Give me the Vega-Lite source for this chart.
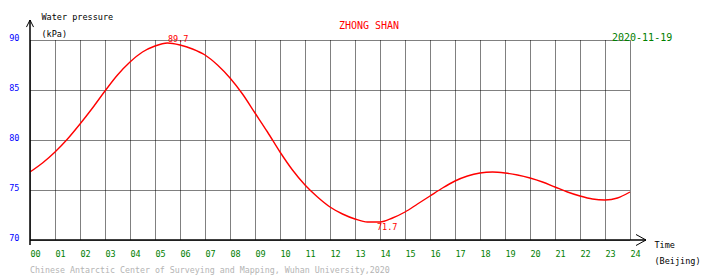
{
  "$schema": "https://vega.github.io/schema/vega-lite/v6.json",
  "width": 600,
  "height": 200,
  "autosize": {"type": "none"},
  "padding": {"left": 30, "top": 40, "right": 80, "bottom": 38},
  "background": "white",
  "config": {"view": {"stroke": null}, "font": "DejaVu Sans Mono"},
  "resolve": {"axis": {"x": "independent", "y": "independent"}},
  "datasets": {
    "pressure": [
      {"h": 0, "v": 76.8}, {"h": 0.5, "v": 77.7}, {"h": 1, "v": 78.8}, {"h": 1.5, "v": 80.1},
      {"h": 2, "v": 81.6}, {"h": 2.5, "v": 83.2}, {"h": 3, "v": 84.9}, {"h": 3.5, "v": 86.5},
      {"h": 4, "v": 87.8}, {"h": 4.5, "v": 88.8}, {"h": 5, "v": 89.4}, {"h": 5.5, "v": 89.7},
      {"h": 6, "v": 89.5}, {"h": 6.5, "v": 89.1}, {"h": 7, "v": 88.5}, {"h": 7.5, "v": 87.5},
      {"h": 8, "v": 86.2}, {"h": 8.5, "v": 84.6}, {"h": 9, "v": 82.7}, {"h": 9.5, "v": 80.8},
      {"h": 10, "v": 78.8}, {"h": 10.5, "v": 77.0}, {"h": 11, "v": 75.5}, {"h": 11.5, "v": 74.3},
      {"h": 12, "v": 73.3}, {"h": 12.5, "v": 72.6}, {"h": 13, "v": 72.1}, {"h": 13.5, "v": 71.8},
      {"h": 14, "v": 71.8}, {"h": 14.5, "v": 72.2}, {"h": 15, "v": 72.8}, {"h": 15.5, "v": 73.6},
      {"h": 16, "v": 74.4}, {"h": 16.5, "v": 75.2}, {"h": 17, "v": 75.9}, {"h": 17.5, "v": 76.4},
      {"h": 18, "v": 76.7}, {"h": 18.5, "v": 76.8}, {"h": 19, "v": 76.7}, {"h": 19.5, "v": 76.5},
      {"h": 20, "v": 76.2}, {"h": 20.5, "v": 75.8}, {"h": 21, "v": 75.3}, {"h": 21.5, "v": 74.8},
      {"h": 22, "v": 74.4}, {"h": 22.5, "v": 74.1}, {"h": 23, "v": 74.0}, {"h": 23.5, "v": 74.2},
      {"h": 24, "v": 74.8}
    ],
    "extremes": [
      {"h": 5.52, "v": 89.7, "label": "89.7", "kind": "max"},
      {"h": 13.88, "v": 71.7, "label": "71.7", "kind": "min"}
    ],
    "one": [{"k": 1}]
  },
  "layer": [
    {
      "data": {"name": "pressure"},
      "mark": {"type": "line", "color": "#ff0000", "strokeWidth": 1.4, "interpolate": "monotone"},
      "encoding": {
        "x": {
          "field": "h", "type": "quantitative",
          "scale": {"domain": [0, 24], "nice": false, "zero": false},
          "axis": {
            "values": [0,1,2,3,4,5,6,7,8,9,10,11,12,13,14,15,16,17,18,19,20,21,22,23,24],
            "format": "02d",
            "domain": false, "ticks": false,
            "grid": true, "gridColor": "#000000", "gridOpacity": 1, "gridWidth": 1, "gridDash": [1, 1],
            "labelColor": "#008000", "labelFont": "DejaVu Sans Mono", "labelFontSize": 8.5,
            "labelAlign": "left", "labelBaseline": "top", "labelPadding": 9, "labelFlush": false, "labelOverlap": false,
            "title": ["Time", "(Beijing)"],
            "titleFont": "DejaVu Sans Mono", "titleFontSize": 8.5, "titleFontWeight": "normal", "titleColor": "#000000",
            "titleAlign": "left", "titleBaseline": "alphabetic", "titleAnchor": null,
            "titleX": 624, "titleY": 7, "titleLineHeight": 16
          }
        },
        "y": {
          "field": "v", "type": "quantitative",
          "scale": {"domain": [70, 90], "nice": false, "zero": false},
          "axis": {
            "values": [70, 75, 80, 85, 90],
            "format": "d",
            "domain": false, "ticks": false,
            "grid": true, "gridColor": "#000000", "gridOpacity": 1, "gridWidth": 1, "gridDash": [1, 1],
            "labelColor": "#0000ff", "labelFont": "DejaVu Sans Mono", "labelFontSize": 8.5,
            "labelAlign": "right", "labelBaseline": "alphabetic", "labelPadding": 11, "labelFlush": false, "labelOverlap": false,
            "title": ["Water pressure", "(kPa)"],
            "titleFont": "DejaVu Sans Mono", "titleFontSize": 8.5, "titleFontWeight": "normal", "titleColor": "#000000",
            "titleAngle": 0, "titleAlign": "left", "titleBaseline": "alphabetic", "titleAnchor": null,
            "titleX": 11, "titleY": -21, "titleLineHeight": 17
          }
        }
      }
    },
    {
      "data": {"name": "one"},
      "mark": {"type": "rule", "color": "#000000", "strokeWidth": 1.5},
      "encoding": {"x": {"datum": 0, "axis": null}, "y": {"datum": 69.5, "axis": null}, "y2": {"datum": 92}}
    },
    {
      "data": {"name": "one"},
      "mark": {"type": "rule", "color": "#000000", "strokeWidth": 1.5},
      "encoding": {"x": {"datum": 0, "axis": null}, "x2": {"datum": 24.64}, "y": {"datum": 70, "axis": null}}
    },
    {
      "data": {"name": "one"},
      "mark": {"type": "point", "shape": "M-0.5,1L0,0L0.5,1", "filled": false, "stroke": "#000000", "strokeWidth": 1, "size": 200, "opacity": 1},
      "encoding": {"x": {"datum": 0, "axis": null}, "y": {"datum": 92, "axis": null}}
    },
    {
      "data": {"name": "one"},
      "mark": {"type": "point", "shape": "M-1,-0.55L0,0L-1,0.55", "filled": false, "stroke": "#000000", "strokeWidth": 1, "size": 400, "opacity": 1},
      "encoding": {"x": {"datum": 24.64, "axis": null}, "y": {"datum": 70, "axis": null}}
    },
    {
      "data": {"name": "extremes"},
      "transform": [{"filter": "datum.kind === 'max'"}],
      "mark": {"type": "text", "color": "#ff0000", "font": "DejaVu Sans Mono", "fontSize": 8.5, "align": "left", "baseline": "alphabetic", "dy": -1},
      "encoding": {"x": {"field": "h", "type": "quantitative", "axis": null}, "y": {"field": "v", "type": "quantitative", "axis": null}, "text": {"field": "label"}}
    },
    {
      "data": {"name": "extremes"},
      "transform": [{"filter": "datum.kind === 'min'"}],
      "mark": {"type": "text", "color": "#ff0000", "font": "DejaVu Sans Mono", "fontSize": 8.5, "align": "left", "baseline": "top", "dy": 0},
      "encoding": {"x": {"field": "h", "type": "quantitative", "axis": null}, "y": {"field": "v", "type": "quantitative", "axis": null}, "text": {"field": "label"}}
    },
    {
      "data": {"name": "one"},
      "mark": {"type": "text", "color": "#ff0000", "font": "DejaVu Sans Mono", "fontSize": 10, "align": "center", "baseline": "alphabetic"},
      "encoding": {"x": {"datum": 13.56, "axis": null}, "y": {"datum": 91.1, "axis": null}, "text": {"value": "ZHONG SHAN"}}
    },
    {
      "data": {"name": "one"},
      "mark": {"type": "text", "color": "#008000", "font": "DejaVu Sans Mono", "fontSize": 10, "align": "left", "baseline": "alphabetic"},
      "encoding": {"x": {"datum": 23.28, "axis": null}, "y": {"datum": 89.9, "axis": null}, "text": {"value": "2020-11-19"}}
    },
    {
      "data": {"name": "one"},
      "mark": {"type": "text", "color": "#b4b4b4", "font": "DejaVu Sans Mono", "fontSize": 8.3, "align": "left", "baseline": "alphabetic"},
      "encoding": {"x": {"datum": 0, "axis": null}, "y": {"datum": 66.7, "axis": null}, "text": {"value": "Chinese Antarctic Center of Surveying and Mapping, Wuhan University,2020"}}
    }
  ]
}
